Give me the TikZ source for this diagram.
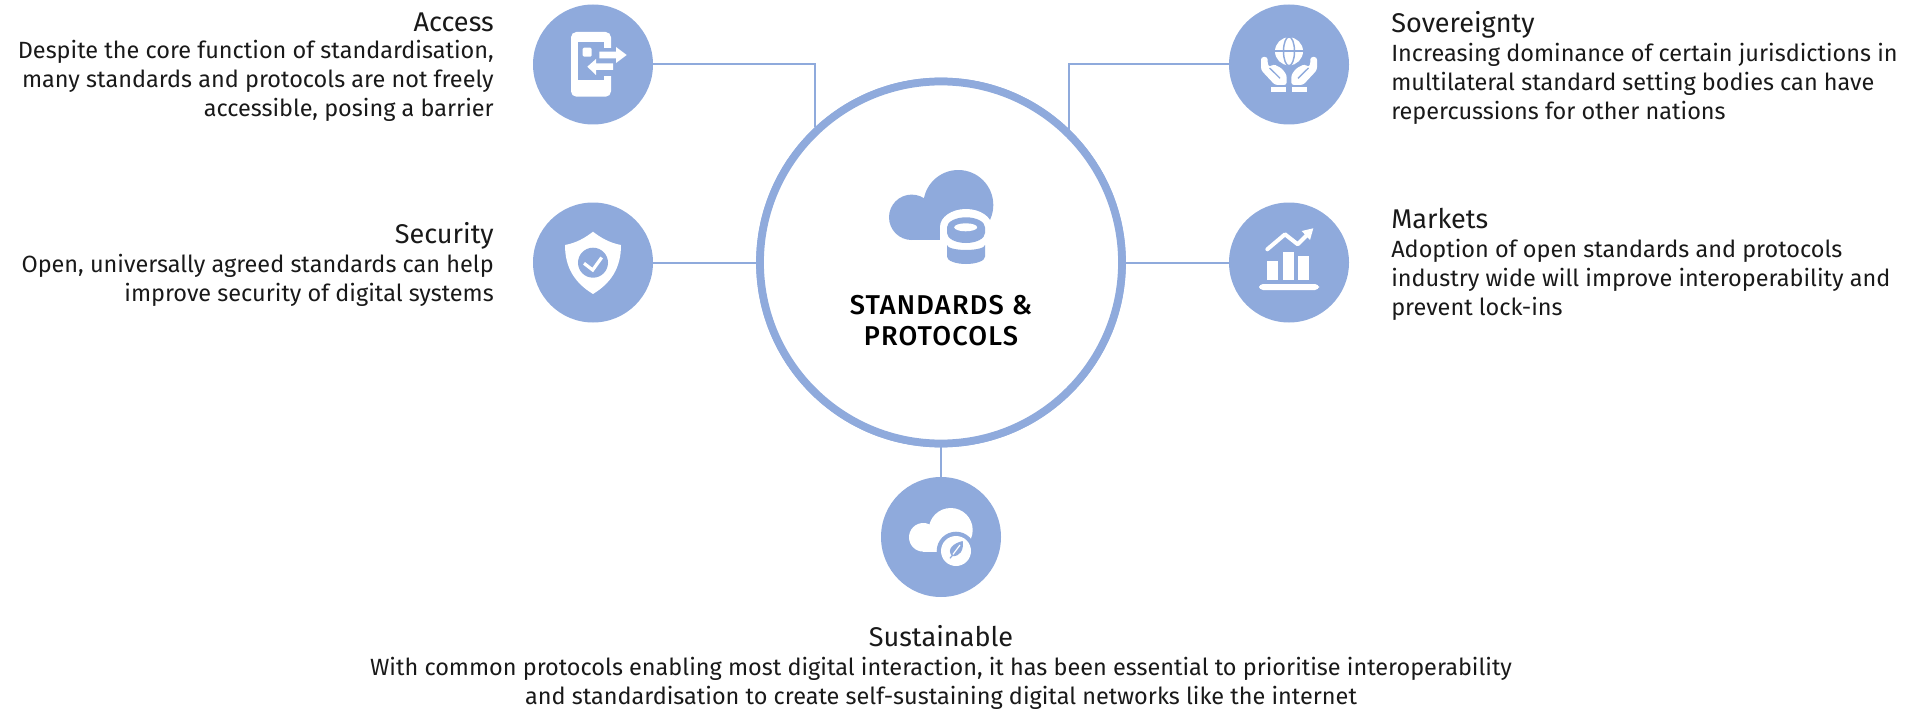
\documentclass[tikz,border=0pt]{standalone}
\usepackage{fontspec}
\setmainfont{Fira Sans}
\newfontfamily\mainfont[LetterSpace=4.4]{Fira Sans Medium}
\usepackage{tikz}
\definecolor{hubblue}{HTML}{8FAADC}
\newcommand{\headtxt}[1]{{\fontsize{20.3}{24}\selectfont #1}}

\begin{document}
\begin{tikzpicture}[x=.75pt,y=-.75pt]
\tikzstyle{disc}=[circle,fill=hubblue,minimum size=90pt,inner sep=0pt]
\tikzstyle{hub}=[circle,draw=hubblue,fill=white,line width=5.8pt,minimum size=271.5pt,inner sep=0pt]
\tikzstyle{link}=[draw=hubblue,line width=1.5pt]
\tikzstyle{body}=[inner sep=0pt,text=black!90,font=\fontsize{17.6}{21.8}\selectfont]
\tikzstyle{bodyleft}=[body,anchor=north east,align=right]
\tikzstyle{bodyright}=[body,anchor=north west,align=left]
\useasboundingbox (0,0) rectangle (1918,710);
\draw (941,262.5) node (main) [hub] {};
\draw (593,64.5) node (access) [disc] {};
\draw (593,262.5) node (security) [disc] {};
\draw (1289,64.5) node (sovereignty) [disc] {};
\draw (1289,262.5) node (markets) [disc] {};
\draw (941,537) node (sustainable) [disc] {};
\draw [link] (access) -| (main.133);
\draw [link] (sovereignty) -| (main.46);
\draw [link] (security) -- (main);
\draw [link] (markets) -- (main);
\draw [link] (sustainable) -- (main);
\draw (941,262.5) node [hub] {};
% labels
\draw (494,12.7) node (accesstxt) [bodyleft] {\headtxt{Access}\\[-1.8pt]Despite the core function of standardisation,\\many standards and protocols are not freely\\accessible, posing a barrier};
\draw (494,222.2) node (securitytxt) [bodyleft] {\headtxt{Security}\\Open, universally agreed standards can help\\improve security of digital systems};
\draw (1391,11) node (sovereigntytxt) [bodyright] {\headtxt{Sovereignty}\\Increasing dominance of certain jurisdictions in\\multilateral standard setting bodies can have\\repercussions for other nations};
\draw (1391,208.2) node (marketstxt) [bodyright] {\headtxt{Markets}\\Adoption of open standards and protocols\\industry wide will improve interoperability and\\prevent lock-ins};
\draw (941,625) node (sustainabletxt) [body,anchor=north,align=center] {\headtxt{Sustainable}\\With common protocols enabling most digital interaction, it has been essential to prioritise interoperability\\and standardisation to create self-sustaining digital networks like the internet};
\draw (941,321) node (maintxt) [inner sep=0pt,align=center,font=\fontsize{20.4}{23.2}\mainfont] {STANDARDS \&\\PROTOCOLS};
% cloud and database
\fill [hubblue] (911.7,217.3) circle [radius=22.7];
\fill [hubblue] (958.3,205) circle [radius=35];
\fill [hubblue] (911.7,218) rectangle (975,240);
\fill [white] (940,227) arc [start angle=180,end angle=360,x radius=26,y radius=18] -- (992,272) -- (940,272) -- cycle;
\fill [hubblue] (947,227.3) arc [start angle=180,end angle=360,x radius=19,y radius=10] -- (985,233) arc [start angle=0,end angle=180,x radius=19,y radius=10] -- cycle;
\fill [white] (965.7,227.3) circle [x radius=11.5,y radius=4];
\fill [hubblue] (947,245) arc [start angle=180,end angle=0,x radius=19,y radius=5] -- (985,256.7) arc [start angle=0,end angle=180,x radius=19,y radius=7.3] -- cycle;
% phone
\fill [white,rounded corners=4] (571,32) rectangle (611,96.7);
\fill [hubblue] (577.7,42) rectangle (604,80);
\fill [hubblue] (604,48) rectangle (612,76);
\fill [white,rounded corners=1] (582.7,47.7) rectangle (591.7,56.7);
\fill [white] (591,88.3) circle [x radius=5,y radius=3];
\fill [white] (599.3,51.7) -- (616,51.7) -- (616,47) -- (626.7,55) -- (616,63) -- (616,58.3) -- (599.3,58.3) -- cycle;
\fill [white] (613,63.3) -- (596,63.3) -- (596,59) -- (587.3,66.7) -- (596,75) -- (596,70) -- (613,70) -- cycle;
% shield
\fill [white] (593,231.7) .. controls (585,238) and (576,243) .. (565,245) .. controls (565,268) and (575,283) .. (593,294) .. controls (611,283) and (621,268) .. (621,245) .. controls (610,243) and (601,238) .. (593,231.7) -- cycle;
\fill [hubblue] (593,262.7) circle [radius=15];
\draw [white,line width=2.4pt] (584,263.3) -- (592.7,270) -- (601.7,257.5);
% globe and hands
\fill [white] (1289,51.3) circle [radius=14];
\draw [hubblue,line width=1.1pt] (1289,51.3) circle [x radius=5.5,y radius=14.5];
\draw [hubblue,line width=1.6pt] (1274,51.3) -- (1304,51.3);
\foreach \sgn in {1,-1}{
\begin{scope}[shift={(1289,0)},xscale=\sgn]
\fill [white,rounded corners=2] (-28,57) -- (-21.3,57) -- (-21.3,65) -- (-19,67.3) -- (-15.7,64) -- (-7.3,68.3) -- (-2.3,75) -- (-2.3,85) -- (-14,85) -- (-28,70) -- cycle;
\draw [hubblue,line width=1pt] (-19.5,68) -- (-14,73.3) -- (-9,78.3);
\fill [white] (-18.3,87.3) rectangle (-3.3,91.7);
\end{scope}
}
% chart
\fill [white] (1267,261) rectangle (1278,280);
\fill [white] (1282.7,251.7) rectangle (1293.7,280);
\fill [white] (1298,255.7) rectangle (1309,280);
\fill [white,rounded corners=3] (1259,284) rectangle (1319,290);
\draw [white,line width=3pt,line cap=round,line join=round] (1267.3,249.3) -- (1285,234.3) -- (1297.7,244.3) -- (1309,233);
\fill [white] (1301.7,231) -- (1313.3,228.3) -- (1310,240) -- cycle;
% cloud and leaf
\fill [white] (923.3,537.3) circle [radius=14.3];
\fill [white] (950.7,530) circle [radius=22];
\fill [white] (923.3,535) rectangle (960,551.6);
\fill [hubblue] (956,551) circle [radius=19.3];
\fill [white] (956,551) circle [radius=15];
\fill [hubblue] (962.7,541) .. controls (954,543) and (946,549) .. (952,556) .. controls (960,557) and (964,550) .. (962.7,541) -- cycle;
\draw [white,line width=.9pt] (960,545) -- (951,557);
\draw [hubblue,line width=.9pt] (953,554.5) -- (950,558.3);
\end{tikzpicture}
\end{document}
